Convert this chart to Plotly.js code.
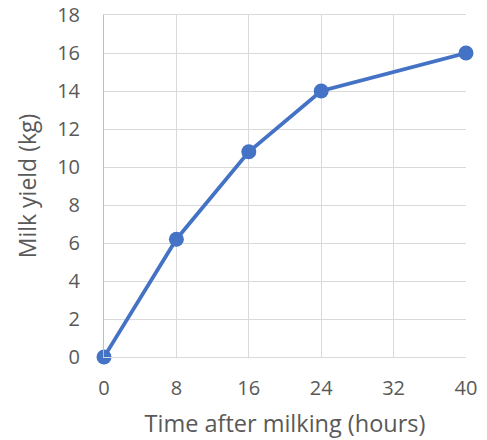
<!DOCTYPE html>
<html>
<head>
<meta charset="utf-8">
<script src="https://cdn.plot.ly/plotly-3.0.1.min.js"></script>
<style>
  html, body { margin: 0; padding: 0; background: #fff; }
  #chart { width: 487px; height: 440px; }
</style>
</head>
<body>
<div id="chart"></div>
<script>
// Milk yield accumulated over time after milking
const hours = [0, 8, 16, 24, 40];
const yieldKg = [0, 6.2, 10.8, 14, 16];
const xTicks = [0, 8, 16, 24, 32, 40];
const yTicks = [0, 2, 4, 6, 8, 10, 12, 14, 16, 18];

const textColor = '#595959';
const font = '"Open Sans", sans-serif';

const trace = {
  x: hours,
  y: yieldKg,
  mode: 'lines+markers',
  line: { color: '#4472C4', width: 3.75 },
  marker: { color: '#4472C4', size: 15 },
  cliponaxis: false,
  hoverinfo: 'x+y'
};

const layout = {
  width: 487,
  height: 440,
  margin: { l: 104, r: 21, t: 15, b: 83 },
  paper_bgcolor: '#fff',
  plot_bgcolor: '#fff',
  showlegend: false,
  font: { family: font, color: textColor, size: 20 },
  xaxis: {
    range: [0, 40],
    tickvals: xTicks,
    ticktext: xTicks.map(String),
    showgrid: true,
    gridcolor: '#d9d9d9',
    gridwidth: 1,
    zeroline: false,
    showline: true,
    linecolor: '#d9d9d9',
    mirror: true,
    ticks: '',
    ticklabelstandoff: 13,
    tickfont: { size: 20, color: textColor },
    title: { text: 'Time after milking (hours)', font: { size: 23.5, color: textColor }, standoff: 15 }
  },
  yaxis: {
    range: [0, 18],
    tickvals: yTicks,
    ticktext: yTicks.map(String),
    showgrid: true,
    gridcolor: '#d9d9d9',
    gridwidth: 1,
    zeroline: false,
    showline: true,
    linecolor: '#bfbfbf',
    ticks: '',
    ticklabelstandoff: 19,
    tickfont: { size: 20, color: textColor },
    title: { text: 'Milk yield (kg)', font: { size: 23, color: textColor }, standoff: 14 }
  }
};

Plotly.newPlot('chart', [trace], layout, { displayModeBar: false, staticPlot: true });
</script>
</body>
</html>
